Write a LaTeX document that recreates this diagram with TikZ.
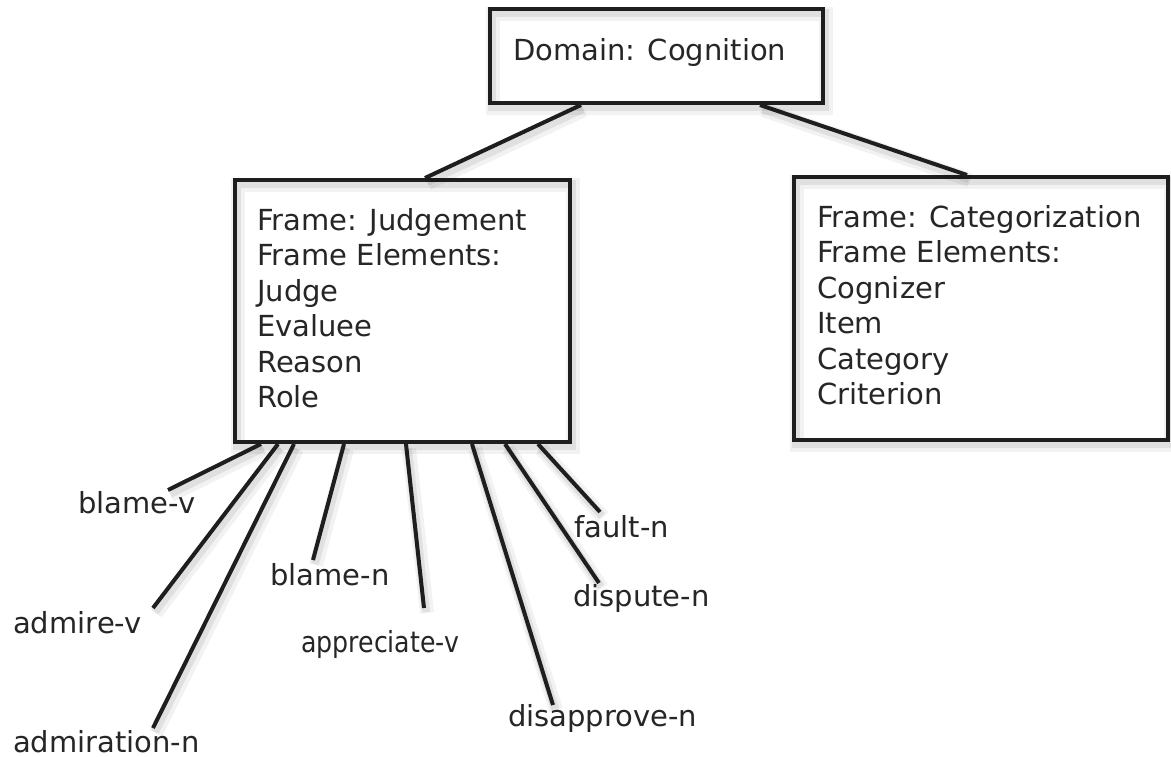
\documentclass[tikz,border=0pt]{standalone}
\usepackage{fontspec}
\setmainfont{DejaVu Sans}
\usetikzlibrary{calc}
\definecolor{ink}{HTML}{1E1E1E}
\definecolor{txt}{HTML}{262626}
\tikzset{
  softshadow/.style={
    preaction={draw=black, draw opacity=0.05, line width=14pt,
      transform canvas={shift={(3pt,-5pt)}}},
    preaction={draw=black, draw opacity=0.07, line width=8pt,
      transform canvas={shift={(2pt,-4pt)}}}},
  boxframe/.style={softshadow, draw=ink, line width=4pt, rectangle, inner sep=0pt},
  boxtext/.style={anchor=north west, inner sep=0pt, align=left, text=txt,
    font=\fontsize{29}{35.5}\selectfont},
  lbl/.style={anchor=base west, inner sep=0pt, text=txt, font=\fontsize{29}{35}\selectfont},
  conn/.style={softshadow, draw=ink, line width=4pt}
}
\begin{document}
\begin{tikzpicture}[x=1pt,y=-1pt]
\useasboundingbox[fill=white] (0,0) rectangle (1171,757);
% boxes
\node[boxframe, minimum width=333pt, minimum height=94pt] (dom) at (656.5,56) {};
\node[boxframe, minimum width=335pt, minimum height=262pt] (judge) at (402.5,311) {};
\node[boxframe, minimum width=374pt, minimum height=263pt] (cat) at (981,308.5) {};
% box texts
\node[boxtext] (domt) at (513,38) {Domain: Cognition};
\node[boxtext] (judget) at (257,208) {Frame: Judgement\\Frame Elements:\\Judge\\Evaluee\\Reason\\Role};
\node[boxtext] (catt) at (817,205) {Frame: Categorization\\Frame Elements:\\Cognizer\\Item\\Category\\Criterion};
% tree connectors
\draw[conn] ([xshift=93pt]dom.south west) -- ([xshift=192pt]judge.north west);
\draw[conn] ([xshift=272pt]dom.south west) -- ([xshift=175pt]cat.north west);
% labels
\node[lbl] (bv) at (78,513) {blame-v};
\node[lbl] (av) at (13,633) {admire-v};
\node[lbl] (an) at (13,752) {admiration-n};
\node[lbl] (bn) at (270,585) {blame-n};
\node[lbl] (apv) at (301,652) {\scalebox{0.87}[1]{appreciate-v}};
\node[lbl] (dn) at (508,726) {disapprove-n};
\node[lbl] (dpn) at (573,606) {dispute-n};
\node[lbl] (fn) at (574,537) {fault-n};
% free ends of the connectors
\coordinate (bve) at (168,490);
\coordinate (ave) at (153,608);
\coordinate (ane) at (153,728);
\coordinate (bne) at (313,560);
\coordinate (apve) at (424,608);
\coordinate (dne) at (553,705);
\coordinate (dpne) at (599,583);
\coordinate (fne) at (600,512);
% lexical unit connectors
\draw[conn] ([xshift=28pt]judge.south west) -- (bve);
\draw[conn] ([xshift=45pt]judge.south west) -- (ave);
\draw[conn] ([xshift=61pt]judge.south west) -- (ane);
\draw[conn] ([xshift=111pt]judge.south west) -- (bne);
\draw[conn] ([xshift=173pt]judge.south west) -- (apve);
\draw[conn] ([xshift=239pt]judge.south west) -- (dne);
\draw[conn] ([xshift=272pt]judge.south west) -- (dpne);
\draw[conn] ([xshift=305pt]judge.south west) -- (fne);
\end{tikzpicture}
\end{document}
